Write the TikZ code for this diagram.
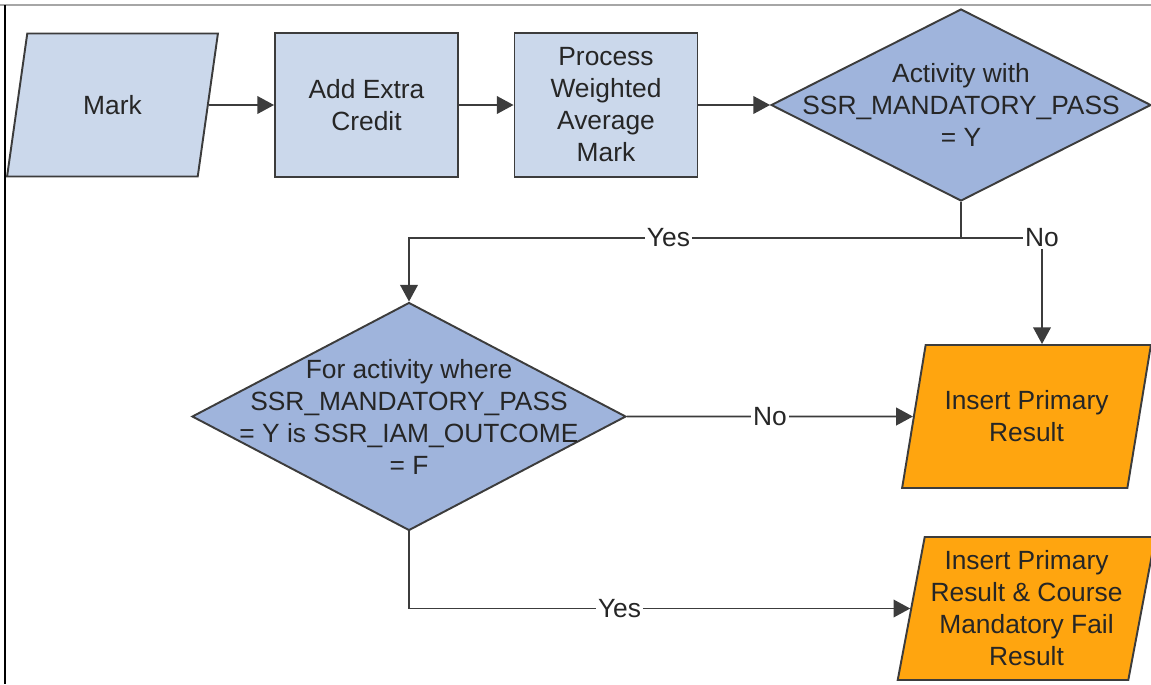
\documentclass[tikz,border=0pt]{standalone}
\usepackage{fontspec}
\setmainfont{Liberation Sans}
\usepackage{tikz}
\usetikzlibrary{shapes.geometric,arrows.meta}
\definecolor{boxblue}{HTML}{CBD8EB}
\definecolor{diablue}{HTML}{9FB4DC}
\definecolor{outorange}{HTML}{FFA50F}
\definecolor{edgegray}{HTML}{3C3C3C}

\begin{document}
\begin{tikzpicture}[x=0.02cm, y=-0.02cm,
        font=\fontsize{15}{18.2}\selectfont,
        shp/.style={draw=edgegray, line width=1.1pt, text=black!85},
        procbox/.style={shp, rectangle, fill=boxblue, minimum width=3.66cm, minimum height=2.88cm, align=center},
        iobox/.style={shp, trapezium, trapezium left angle=75, trapezium right angle=105, trapezium stretches=true, minimum height=2.86cm, align=center},
        outbox/.style={iobox, fill=outorange, minimum width=4.98cm},
        decision/.style={shp, diamond, fill=diablue, inner sep=0pt},
        flow/.style={edgegray, line width=1.1pt, -{Triangle[length=9.5pt,width=10pt]}},
        tag/.style={fill=white, inner sep=1pt, text=black!85}]
        \useasboundingbox (0,0) rectangle (1151,684);
        \draw[gray!70, line width=0.6pt] (0,5) -- (1151,5);
        \draw[black, line width=0.6pt] (5,5) -- (5,684);

        \node[iobox, fill=boxblue, minimum width=4.22cm] (mark) at (112.5,105) {Mark};
        \node[procbox] (credit) at (366.5,105) {Add Extra\\Credit};
        \node[procbox] (wavg) at (606,105) {Process\\Weighted\\Average\\Mark};
        \node[decision, minimum width=7.6cm, minimum height=3.84cm] (q1) at (961,105) {};
        \node[align=center, text=black!85] (q1txt) at (q1.center) {Activity with\\SSR\_MANDATORY\_PASS\\= Y};
        \node[decision, minimum width=8.68cm, minimum height=4.56cm] (q2) at (409,416.5) {};
        \node[align=center, text=black!85] (q2txt) at (q2.center) {For activity where\\SSR\_MANDATORY\_PASS\\= Y is SSR\_IAM\_OUTCOME\\= F};
        \node[outbox, trapezium left angle=72, trapezium right angle=108] (res1) at (1026.5,416.5) {Insert Primary\\Result};
        \node[outbox, trapezium left angle=78, trapezium right angle=102] (res2) at (1026.5,608.5) {Insert Primary\\Result \& Course\\Mandatory Fail\\Result};

        \coordinate (split) at (961,238);
        \coordinate (nocorner) at (1042,238);

        \draw[flow] (mark) -- (credit);
        \draw[flow] (credit) -- (wavg);
        \draw[flow] (wavg.east) -- (q1.west);
        \draw[edgegray, line width=1.1pt] (q1.south) -- (split);
        \draw[flow] (split) -| node[tag, pos=0.265] {Yes} (q2.north);
        \draw[flow] (split) -- (nocorner) node[tag] {No} -- (nocorner |- res1.north);
        \draw[flow] (q2.east) -- node[tag] {No} (res1.west);
        \draw[flow] (q2.south) |- node[tag, pos=0.71] {Yes} (res2.west);
    \end{tikzpicture}
\end{document}
